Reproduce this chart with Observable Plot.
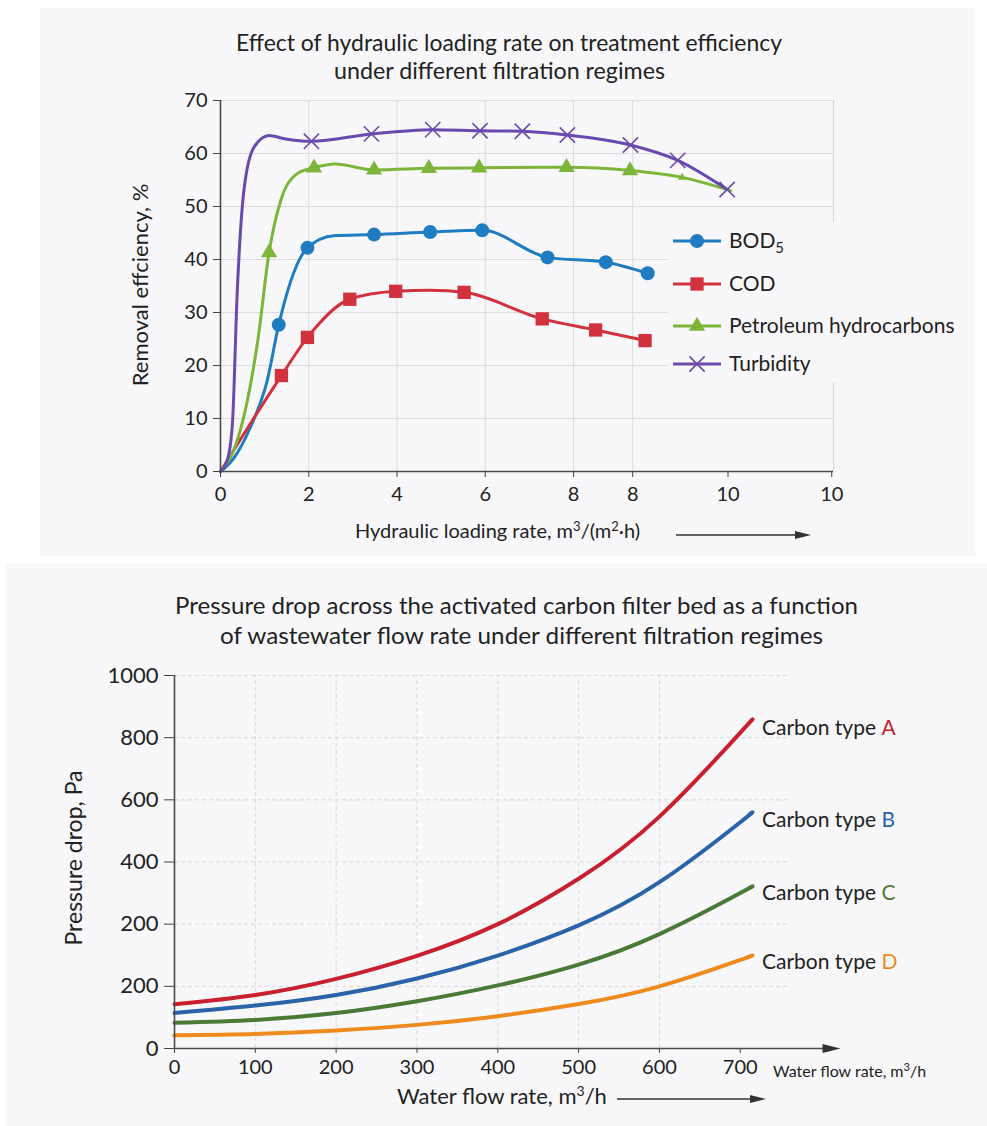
<!DOCTYPE html>
<html><head><meta charset="utf-8">
<script src="https://cdn.jsdelivr.net/npm/d3@7"></script>
<script src="https://cdn.jsdelivr.net/npm/@observablehq/plot@0.6"></script>
<style>
body{margin:0;background:#fff;}
#wrap{position:relative;width:987px;height:1126px;overflow:hidden;font-family:Lato,sans-serif;}
.panel{position:absolute;background:#f8f8fa;}
#top,#bottom{position:absolute;left:0;}
#top{top:0px}
#bottom{top:650px}
#overlay{position:absolute;left:0;top:0;pointer-events:none}
</style></head><body>
<div id="wrap">
 <div class="panel" style="left:40px;top:8px;width:935px;height:548px"></div>
 <div class="panel" style="left:5px;top:563px;width:982px;height:563px"></div>
 <div id="top"></div><div id="bottom"></div>
 <svg id="overlay" width="987" height="1126"></svg>
</div>
<script>
const W = 987;
// ===== Chart 1: hydraulic loading rate vs removal efficiency =====
// points: [loading rate (axis units), removal %, marker: 1 = marker, 2 = small marker, 0 = none]
const bod5 = [[0,0,0],[0.3,2.5,0],[0.68,8.4,0],[1.06,17.2,0],[1.32,27.7,1],[1.97,42.2,1],[2.57,44.5,0],[3.48,44.7,1],[4.75,45.2,1],[5.93,45.5,1],[7.41,40.4,1],[8.73,39.5,1],[9.68,37.4,1]];
const cod = [[0,0,0],[1.38,18.1,1],[1.97,25.3,1],[2.93,32.5,1],[3.97,34.0,1],[4.76,34.2,0],[5.52,33.8,1],[7.29,28.8,1],[8.50,26.7,1],[9.62,24.7,1]];
const petroleum = [[0,0,0],[0.3,4,0],[0.6,13,0],[0.85,25,0],[1.10,41.3,1],[1.36,51,0],[1.74,56.2,0],[2.12,57.3,1],[2.6,58.0,0],[3.48,56.9,1],[4.72,57.2,1],[5.86,57.3,1],[7.84,57.4,1],[9.28,56.8,1],[10.46,55.5,2],[11.56,53.0,0]];
const turbidity = [[0,0,0],[0.15,2,0],[0.27,9,0],[0.38,34,0],[0.53,53,0],[0.76,61.2,0],[1.1,63.4,0],[1.45,62.8,0],[2.06,62.3,1],[3.42,63.7,1],[4.81,64.5,1],[5.88,64.3,1],[6.84,64.2,1],[7.86,63.5,1],[9.29,61.6,1],[10.36,58.7,1],[11.48,53.2,1]];
const topSeriesNames = ["BOD5","COD","Petroleum hydrocarbons","Turbidity"];
const topColors = ["#1f7bc2","#d2323d","#7db43a","#6a4aae"];
const topSymbols = ["circle","square","triangle","times"];
const xTopTicks = [0,2,4,6,8,9.34,11.5,13.85];
const xTopTickLabels = ["0","2","4","6","8","8","10","10"];
const yTopTicks = [0,10,20,30,40,50,60,70];
const xTopMax = 13.89;

// ===== Chart 2: pressure drop vs water flow rate =====
const flowRate = [0,100,200,300,400,500,600,700,712];
const carbonA = [142,172,224,298,400,546,746,1016,1050];
const carbonB = [114,138,172,225,299,396,535,728,755];
const carbonC = [83,92,114,152,203,270,368,500,518];
const carbonD = [43,47,58,76,104,143,200,285,297];
const carbonLetters = ["A","B","C","D"];
const carbonColors = ["#c8202f","#2a63a8","#4b7a36","#ef8a1f"];
const yBotTicks = [0,200,400,600,800,1000,1200];
const yBotTickLabels = ["0","200","200","400","600","800","1000"];
const xBotTicks = [0,100,200,300,400,500,600,700];
const xBotMax = 824;

// ---------- build chart 1 ----------
const topData = [bod5,cod,petroleum,turbidity];
const topRows = topData.map((s,i)=>s.map(([x,y,m])=>({x,y,m,name:topSeriesNames[i]})));
const xLabelMap = new Map(xTopTicks.map((t,i)=>[t,xTopTickLabels[i]]));
const symR = {circle:7, square:7.5, triangle:6, times:7};

const topMarks = [
  Plot.ruleY(yTopTicks.slice(1), {stroke:"#dcdcdc", strokeWidth:1}),
  Plot.ruleX(xTopTicks.slice(1,6), {stroke:"#dcdcdc", strokeWidth:1}),
  Plot.ruleX([xTopMax], {stroke:"#d4d4d4", strokeWidth:1}),
];
topRows.forEach((rows,i)=>{
  topMarks.push(Plot.line(rows, {x:"x", y:"y", stroke:topColors[i], strokeWidth:3, curve:"monotone-x"}));
});
topRows.forEach((rows,i)=>{
  const sym = topSymbols[i];
  const big = rows.filter(d=>d.m===1), small = rows.filter(d=>d.m===2);
  if (sym === "times") {
    topMarks.push(Plot.dot(big, {x:"x", y:"y", symbol:"times", r:symR[sym], stroke:topColors[i], strokeWidth:1.6}));
  } else {
    topMarks.push(Plot.dot(big, {x:"x", y:"y", symbol:sym, r:symR[sym], fill:topColors[i], stroke:"none"}));
    topMarks.push(Plot.dot(small, {x:"x", y:"y", symbol:sym, r:3, fill:topColors[i], stroke:"none"}));
  }
});
topMarks.push(
  Plot.axisX({ticks:xTopTicks, tickFormat:d=>xLabelMap.get(d), tickSize:6, tickPadding:9, label:null, stroke:"#444"}),
  Plot.axisY({ticks:yTopTicks, tickSize:7, tickPadding:6, label:null, stroke:"#444"}),
  Plot.ruleX([0], {stroke:"#4a4a4a", strokeWidth:1.6}),
  Plot.ruleY([0], {stroke:"#4a4a4a", strokeWidth:1.6})
);
const topPlot = Plot.plot({
  width: W, height: 560,
  marginLeft: 220, marginRight: W-833, marginTop: 100, marginBottom: 89,
  style: {background:"transparent", fontFamily:"Lato, sans-serif", fontSize:"20px", color:"#222", overflow:"visible"},
  x: {domain:[0,xTopMax]},
  y: {domain:[0,70]},
  marks: topMarks
});
document.getElementById("top").appendChild(topPlot);

// ---------- build chart 2 ----------
const botSeries = [carbonA,carbonB,carbonC,carbonD];
const botRows = botSeries.map((ys,i)=>ys.map((y,j)=>({x:flowRate[j], y, letter:carbonLetters[i]})));
const cv = document.createElement("canvas").getContext("2d");
cv.font = "21px Lato";
const prefixW = cv.measureText("Carbon type ").width;
const arrowHead = {draw(ctx){ ctx.moveTo(0,0); ctx.lineTo(-18,-4.5); ctx.lineTo(-18,4.5); ctx.closePath(); }};

const botMarks = [
  Plot.ruleY(yBotTicks.slice(1), {x1:0, x2:758, stroke:"#d8d8d8", strokeWidth:1, strokeDasharray:"4,3"}),
  Plot.ruleX(xBotTicks.slice(1,7), {y1:0, y2:1200, stroke:"#d8d8d8", strokeWidth:1, strokeDasharray:"4,3"}),
];
botRows.forEach((rows,i)=>{
  botMarks.push(Plot.line(rows, {x:"x", y:"y", stroke:carbonColors[i], strokeWidth:4, curve:"natural"}));
  botMarks.push(Plot.text(rows, Plot.selectLast({x:"x", y:"y", text:()=>"Carbon type", textAnchor:"start", dx:12, dy:6, fill:"#222", fontSize:21})));
  botMarks.push(Plot.text(rows, Plot.selectLast({x:"x", y:"y", text:"letter", textAnchor:"start", dx:12+prefixW, dy:6, fill:carbonColors[i], fontSize:21})));
});
botMarks.push(
  Plot.axisX({ticks:xBotTicks, tickSize:5, tickPadding:6, label:null, stroke:"#444"}),
  Plot.axisY({ticks:yBotTicks, tickFormat:d=>yBotTickLabels[yBotTicks.indexOf(d)], tickSize:10, tickPadding:6, label:null, stroke:"#444"}),
  Plot.ruleX([0], {y1:0, y2:1200, stroke:"#4a4a4a", strokeWidth:1.6}),
  Plot.ruleY([0], {x1:0, x2:xBotMax-20, stroke:"#4a4a4a", strokeWidth:1.6}),
  Plot.dot([{x:xBotMax, y:0}], {x:"x", y:"y", symbol:arrowHead, fill:"#333", stroke:"none"})
);
const botPlot = Plot.plot({
  width: W, height: 476,
  marginLeft: 174, marginRight: W-840, marginTop: 25, marginBottom: 78,
  style: {background:"transparent", fontFamily:"Lato, sans-serif", fontSize:"20px", color:"#222", overflow:"visible"},
  x: {domain:[0,xBotMax]},
  y: {domain:[0,1200]},
  marks: botMarks
});
document.getElementById("bottom").appendChild(botPlot);
d3.select(botPlot).selectAll('g[aria-label="y-axis tick label"] text').attr("font-size", 22);

// ---------- overlay: titles, axis labels, legend ----------
const ov = d3.select("#overlay");
function txt(x, y, s, o={}) {
  const t = ov.append("text").attr("x", x).attr("y", y).attr("font-family","Lato, sans-serif")
    .attr("font-size", o.size||20).attr("fill", o.fill||"#222").attr("text-anchor", o.anchor||"start");
  if (o.len) t.attr("textLength", o.len).attr("lengthAdjust","spacingAndGlyphs");
  if (o.rotate) t.attr("transform", `rotate(-90 ${x} ${y})`);
  t.text(s);
  return t;
}
function arrow(x1, x2, y) {
  ov.append("line").attr("x1",x1).attr("x2",x2-14).attr("y1",y).attr("y2",y).attr("stroke","#333").attr("stroke-width",1.5);
  ov.append("path").attr("d",`M${x2},${y}L${x2-16},${y-4}L${x2-16},${y+4}Z`).attr("fill","#333");
}
// chart 1 titles & labels
txt(236, 51, "Effect of hydraulic loading rate on treatment efficiency", {size:23, len:546});
txt(334, 79, "under different filtration regimes", {size:23, len:331});
txt(148, 285, "Removal effciency, %", {size:22, anchor:"middle", rotate:true});
const hl = txt(355, 538, "Hydraulic loading rate, m", {size:20, len:null});
hl.append("tspan").attr("font-size",13).attr("dy",-7).text("3");
hl.append("tspan").attr("dy",7).text("/(m");
hl.append("tspan").attr("font-size",13).attr("dy",-7).text("2");
hl.append("tspan").attr("dy",7).text("·h)");
arrow(676, 811, 535);

// legend
const lg = ov.append("g");
lg.append("rect").attr("x",668).attr("y",222).attr("width",302).attr("height",160).attr("fill","#f8f8fa");
const legendY = [241, 284, 326, 364];
const d3sym = {circle:d3.symbolCircle, square:d3.symbolSquare, triangle:d3.symbolTriangle, times:d3.symbolTimes};
topSeriesNames.forEach((n,i)=>{
  const y = legendY[i];
  lg.append("line").attr("x1",673).attr("x2",721).attr("y1",y).attr("y2",y).attr("stroke",topColors[i]).attr("stroke-width",3);
  const sym = topSymbols[i], r = symR[sym];
  const p = lg.append("path").attr("transform",`translate(697,${y})`).attr("d", d3.symbol(d3sym[sym], Math.PI*r*r)());
  if (sym === "times") p.attr("fill","none").attr("stroke",topColors[i]).attr("stroke-width",1.6);
  else p.attr("fill",topColors[i]);
  const t = lg.append("text").attr("x",729).attr("y",y+7).attr("font-family","Lato, sans-serif").attr("font-size",21).attr("fill","#222");
  if (n === "BOD5") { t.text("BOD"); t.append("tspan").attr("font-size",15).attr("dy",5).text("5"); }
  else t.text(n);
});

// chart 2 titles & labels
txt(175, 614, "Pressure drop across the activated carbon filter bed as a function", {size:23, len:683});
txt(220, 644, "of wastewater flow rate under different filtration regimes", {size:23, len:603});
txt(82, 858, "Pressure drop, Pa", {size:23, anchor:"middle", rotate:true});
const sm = txt(773, 1077, "Water flow rate, m", {size:16});
sm.append("tspan").attr("font-size",11).attr("dy",-6).text("3");
sm.append("tspan").attr("dy",6).text("/h");
const wl = txt(397, 1104, "Water flow rate, m", {size:22});
wl.append("tspan").attr("font-size",14).attr("dy",-8).text("3");
wl.append("tspan").attr("dy",8).text("/h");
arrow(617, 766, 1099);
</script>
</body></html>
